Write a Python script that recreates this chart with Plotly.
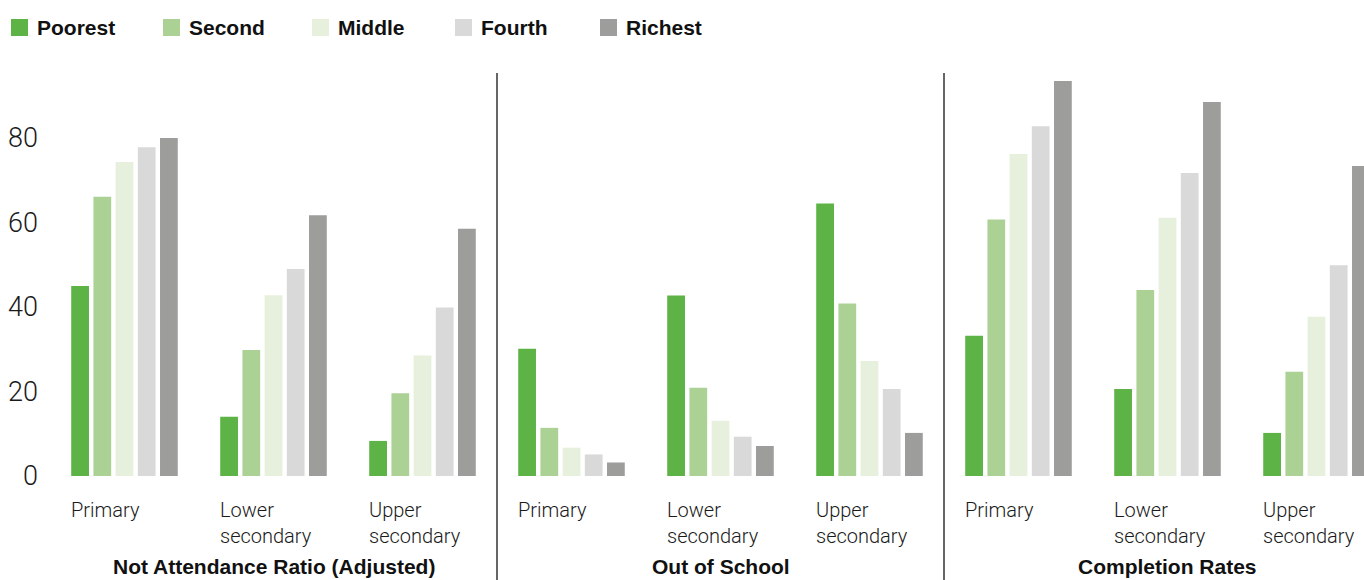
import plotly.graph_objects as go

# ---- data ----
panels = ["Not Attendance Ratio (Adjusted)", "Out of School", "Completion Rates"]
levels = ["Primary", "Lower<br>secondary", "Upper<br>secondary"]
series = ["Poorest", "Second", "Middle", "Fourth", "Richest"]
colors = ["#5db345", "#acd194", "#e6f0dc", "#d9d9d9", "#9d9d9c"]

# values per series: 9 entries = 3 panels x 3 levels
poorest = [45.0, 14.0, 8.3, 30.1, 42.7, 64.5, 33.2, 20.6, 10.2]
second = [66.1, 29.8, 19.6, 11.4, 20.9, 40.8, 60.7, 44.0, 24.7]
middle = [74.3, 42.8, 28.5, 6.7, 13.1, 27.2, 76.2, 61.1, 37.7]
fourth = [77.8, 49.0, 39.9, 5.1, 9.3, 20.6, 82.8, 71.7, 49.9]
richest = [80.0, 61.7, 58.5, 3.2, 7.1, 10.2, 93.5, 88.5, 73.4]
values = [poorest, second, middle, fourth, richest]

y_ticks = [0, 20, 40, 60, 80]

# ---- layout constants ----
W, H = 1364, 580
ML, MR, MT, MB = 50, 0, 73, 104
plot_w = W - ML - MR
plot_h = H - MT - MB
PX_PER_BAND = 149.0
PX_PER_UNIT = 4.225

n_groups = len(panels) * len(levels)
xpos = list(range(n_groups))
x_lo = -0.5
x_hi = x_lo + plot_w / PX_PER_BAND
y_hi = plot_h / PX_PER_UNIT

light_font = dict(family="Roboto, Liberation Sans, Arial, sans-serif", weight=300, color="#1a1a1a")
bold_font = dict(family="Liberation Sans, Arial, Helvetica, sans-serif", weight="bold", color="#111111")

fig = go.Figure()
for name, col, vals in zip(series, colors, values):
    fig.add_trace(go.Bar(
        x=xpos, y=vals, name=name,
        marker=dict(color=col, line=dict(width=0)),
        showlegend=False,
        hoverinfo="x+y+name",
    ))

def py(p):
    """pixel y (from top) -> paper y"""
    return (H - MB - p) / plot_h

def px(p):
    return (p - ML) / plot_w

annotations = []
shapes = []

# category labels (left aligned at group start)
group_half = (1 - 0.255) / 2
for g in xpos:
    annotations.append(dict(
        x=g - group_half, xref="x", xanchor="left",
        y=py(496), yref="paper", yanchor="top",
        text=levels[g % len(levels)], showarrow=False, align="left",
        font=dict(size=20, **light_font),
    ))

# panel titles and dividers
for i, title in enumerate(panels):
    center = i * len(levels) + (len(levels) - 1) / 2
    annotations.append(dict(
        x=center, xref="x", xanchor="center",
        y=py(566), yref="paper", yanchor="middle",
        text=f"<b>{title}</b>", showarrow=False,
        font=dict(size=21, **bold_font),
    ))
    if i > 0:
        xd = i * len(levels) - 0.5
        shapes.append(dict(
            type="line", xref="x", yref="paper",
            x0=xd, x1=xd, y0=py(H), y1=1,
            line=dict(color="#333333", width=1.5),
        ))

# manual legend
legend_x_px = [11, 163, 312, 455, 600]
for lx, name, col in zip(legend_x_px, series, colors):
    shapes.append(dict(
        type="rect", xref="paper", yref="paper",
        x0=px(lx), x1=px(lx + 17), y0=py(36), y1=py(19),
        fillcolor=col, line=dict(width=0),
    ))
    annotations.append(dict(
        x=px(lx + 24), xref="paper", xanchor="left",
        y=py(28), yref="paper", yanchor="middle",
        text=f"<b>{name}</b>", showarrow=False,
        font=dict(size=21, **bold_font),
    ))

fig.update_layout(
    width=W, height=H,
    margin=dict(l=ML, r=MR, t=MT, b=MB, pad=0),
    paper_bgcolor="white", plot_bgcolor="white",
    barmode="group", bargap=0.255, bargroupgap=0.2,
    annotations=annotations, shapes=shapes,
    showlegend=False,
    xaxis=dict(range=[x_lo, x_hi], showticklabels=False, showgrid=False,
               zeroline=False, showline=False, ticks="", fixedrange=True),
    yaxis=dict(range=[0, y_hi], tickvals=y_ticks, showgrid=False,
               zeroline=False, showline=False, ticks="",
               ticklabelstandoff=11,
               tickfont=dict(size=27, **light_font), fixedrange=True),
)

fig.write_html("out.html", config={"displayModeBar": False})
